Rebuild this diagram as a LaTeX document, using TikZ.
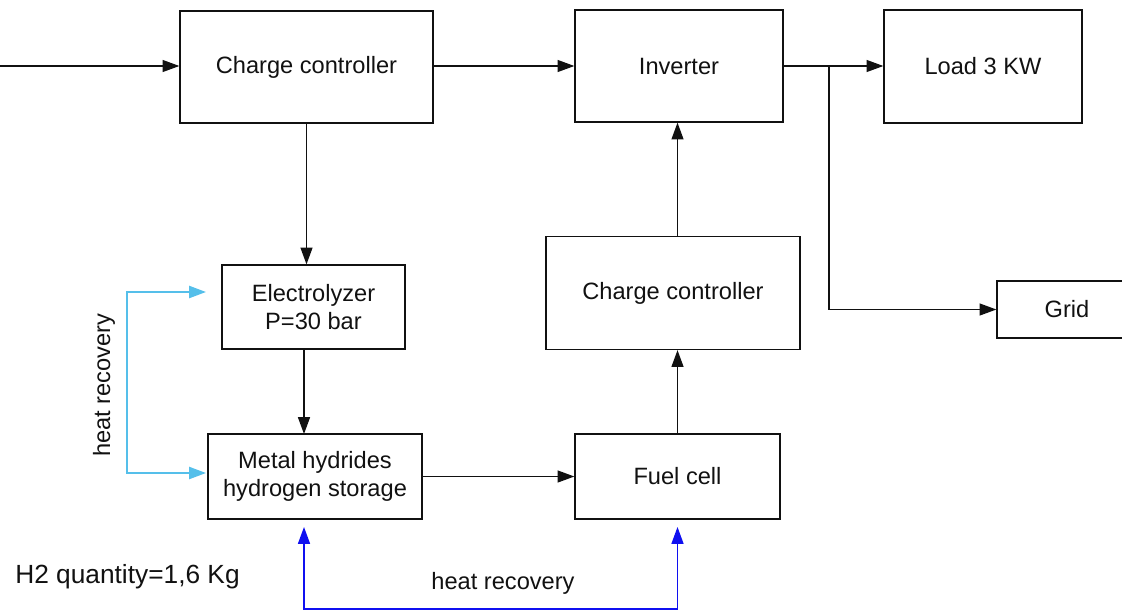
\documentclass[tikz,border=0pt]{standalone}
\usepackage{fontspec}
\setmainfont{Liberation Sans}
\usetikzlibrary{arrows.meta}
\definecolor{Ink}{HTML}{111111}
\definecolor{SkyLine}{HTML}{55BFEA}
\definecolor{DeepLine}{HTML}{1010F0}

\begin{document}
\begin{tikzpicture}[x=0.025cm,y=-0.025cm,>={Triangle[length=0.42cm,width=0.3cm]},
  every node/.style={font=\fontsize{16.8}{20}\selectfont,text=Ink},
  unit/.style={draw=Ink,line width=0.9pt,align=center,inner sep=0pt},
  flow/.style={draw=Ink,line width=0.9pt,->}]
\useasboundingbox (0,0) rectangle (1122,611);
% blocks
\node[unit,minimum width=6.325cm,minimum height=2.8cm] (cc1) at (306.5,67){Charge controller};
\node[unit,minimum width=5.2cm,minimum height=2.8cm] (inv) at (679,66){Inverter};
\node[unit,minimum width=4.95cm,minimum height=2.825cm] (load) at (983,66.5){Load 3 KW};
\node[unit,minimum width=4.575cm,minimum height=2.1cm] (elec) at (313.5,307){Electrolyzer\\P=30 bar};
\node[unit,minimum width=6.35cm,minimum height=2.825cm] (cc2) at (673,293){Charge controller};
\node[unit,minimum width=5.35cm,minimum height=2.125cm] (mh) at (315,476.5){Metal hydrides\\hydrogen storage};
\node[unit,minimum width=5.125cm,minimum height=2.125cm] (fc) at (677.5,476.5){Fuel cell};
\node[unit,minimum width=3.5cm,minimum height=1.425cm] (grid) at (1067,309.5){Grid};
% free ends
\coordinate (pv) at (0,66);
\coordinate (split) at (829,66);
\coordinate (hrA) at (206,292);
\coordinate (hrB) at (206,473);
\coordinate (hrC) at (304,527);
\coordinate (hrD) at (677.5,527);
% power flow
\draw[flow] (pv)--(cc1.west|-pv);
\draw[flow] (cc1.east|-pv)--(inv.west);
\draw[flow] (inv.east)--(load.west|-inv.east);
\draw[flow] (split)|-(grid.west);
\draw[flow] (cc1.south)--(cc1.south|-elec.north);
\draw[flow] (304,349)--(304,434);
\draw[flow] (mh.east)--(fc.west);
\draw[flow] (fc.north)--(fc.north|-cc2.south);
\draw[flow] (fc.north|-cc2.north)--(fc.north|-inv.south);
% heat recovery loops
\draw[SkyLine,line width=1.4pt,<->] (hrA)--(127,292)--(127,473)--(hrB);
\draw[DeepLine,line width=0.9pt,<->] (hrC)--(304,609)--(677.5,609)--(hrD);
\node[rotate=90] (hrlabA) at (104,385){heat recovery};
\node (hrlabB) at (503,583){heat recovery};
\node[font=\fontsize{18.7}{22}\selectfont] (h2) at (127.5,577){H2 quantity=1,6 Kg};
\end{tikzpicture}
\end{document}
